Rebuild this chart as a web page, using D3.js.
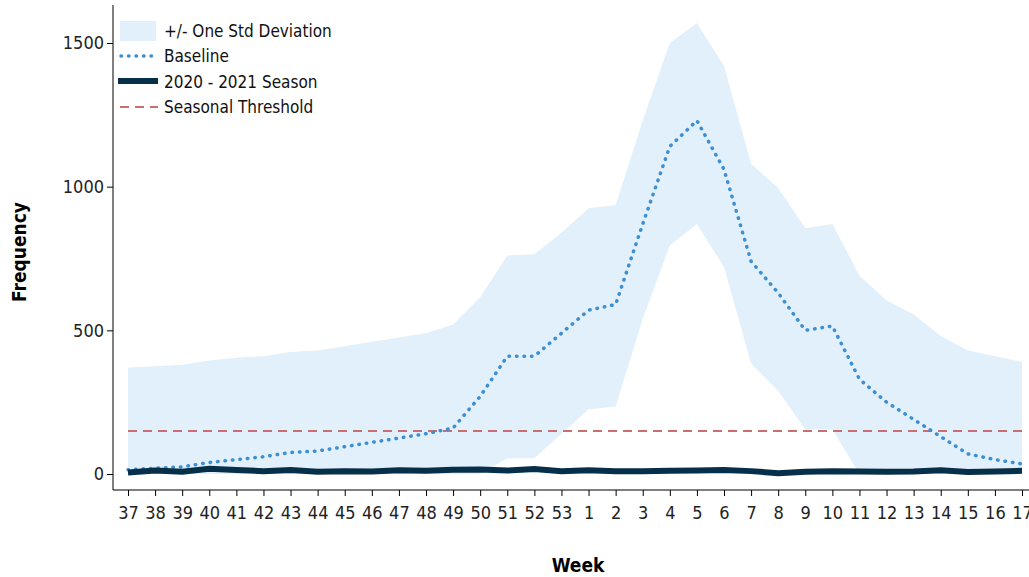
<!DOCTYPE html>
<html><head><meta charset="utf-8">
<script src="https://cdn.jsdelivr.net/npm/d3@7"></script>
<style>body{margin:0;background:#fff}text{font-family:"Liberation Sans Narrow","DejaVu Sans Condensed","Liberation Sans",sans-serif}</style>
</head><body><svg width="1029" height="577"></svg>
<script>
var weeks = ["37","38","39","40","41","42","43","44","45","46","47","48","49","50","51","52","53","1","2","3","4","5","6","7","8","9","10","11","12","13","14","15","16","17"];
var baseline = [15,20,25,40,50,60,75,80,95,110,125,140,160,270,410,410,490,570,590,870,1140,1230,1060,740,630,500,515,330,250,190,130,70,50,35];
var upper = [370,375,380,395,405,410,425,430,445,460,475,490,520,615,760,765,840,925,935,1230,1500,1570,1420,1080,995,855,870,690,605,555,480,430,410,390];
var lower = [0,0,0,0,0,0,0,0,0,0,0,0,0,0,55,55,140,225,235,540,795,870,720,385,290,155,155,0,0,0,0,0,0,0];
var season = [5,12,8,18,14,10,14,8,10,9,13,11,15,16,12,17,10,13,10,10,11,12,14,10,3,8,10,9,8,9,13,7,9,11];
var threshold = 150;
var yTicks = [0,500,1000,1500];

var svg = d3.select("svg");
var x = d3.scalePoint().domain(weeks).range([128, 1022]);
var y = d3.scaleLinear().domain([0,1500]).range([474, 43]);
var idx = d3.range(weeks.length);

svg.append("path").datum(idx)
  .attr("fill","#e1f0fa")
  .attr("d", d3.area().x(i=>x(weeks[i])).y0(i=>y(lower[i])).y1(i=>y(upper[i])));
svg.append("line").attr("x1",128).attr("x2",1022).attr("y1",y(threshold)).attr("y2",y(threshold))
  .attr("stroke","#c9706e").attr("stroke-width",2).attr("stroke-dasharray","9,6");
svg.append("path").datum(idx).attr("fill","none").attr("stroke","#3d8fd1").attr("stroke-width",3.5)
  .attr("stroke-dasharray","0.5,7").attr("stroke-linecap","round")
  .attr("d", d3.line().x(i=>x(weeks[i])).y(i=>y(baseline[i])));
svg.append("path").datum(idx).attr("fill","none").attr("stroke","#062f4a").attr("stroke-width",6)
  .attr("d", d3.line().x(i=>x(weeks[i])).y(i=>y(season[i])));

var ya = svg.append("g").attr("transform","translate(113,0)")
  .call(d3.axisLeft(y).tickValues(yTicks).tickFormat(d3.format("d")).tickSize(6).tickSizeOuter(0));
ya.select(".domain").attr("d","M0,5V490");
var xa = svg.append("g").attr("transform","translate(0,490)")
  .call(d3.axisBottom(x).tickSize(6).tickSizeOuter(0));
xa.select(".domain").attr("d","M113,0H1029");
svg.selectAll(".tick text").style("font-size","18px").attr("fill","#222");
xa.selectAll(".tick text").attr("dy","1.1em");

svg.append("text").attr("x",578).attr("y",572).attr("text-anchor","middle")
  .style("font-size","19px").style("font-weight","bold").text("Week");
svg.append("text").attr("transform","translate(26,252) rotate(-90)").attr("text-anchor","middle")
  .style("font-size","19px").style("font-weight","bold").text("Frequency");

var lg = svg.append("g").attr("transform","translate(118,0)");
lg.append("rect").attr("x",2).attr("y",21).attr("width",36).attr("height",20).attr("fill","#e1f0fa");
lg.append("line").attr("x1",3).attr("x2",38).attr("y1",56).attr("y2",56).attr("stroke","#3d8fd1")
  .attr("stroke-width",3.5).attr("stroke-dasharray","0.5,7").attr("stroke-linecap","round");
lg.append("line").attr("x1",0).attr("x2",40).attr("y1",81).attr("y2",81).attr("stroke","#062f4a").attr("stroke-width",6);
lg.append("line").attr("x1",2).attr("x2",40).attr("y1",107).attr("y2",107).attr("stroke","#c9706e")
  .attr("stroke-width",2).attr("stroke-dasharray","9,6");
["+/- One Std Deviation","Baseline","2020 - 2021 Season","Seasonal Threshold"].forEach(function(t,i){
  lg.append("text").attr("x",46).attr("y",31+i*25.5).attr("dy","0.35em").style("font-size","17px").attr("fill","#111").text(t);
});
</script></body></html>
